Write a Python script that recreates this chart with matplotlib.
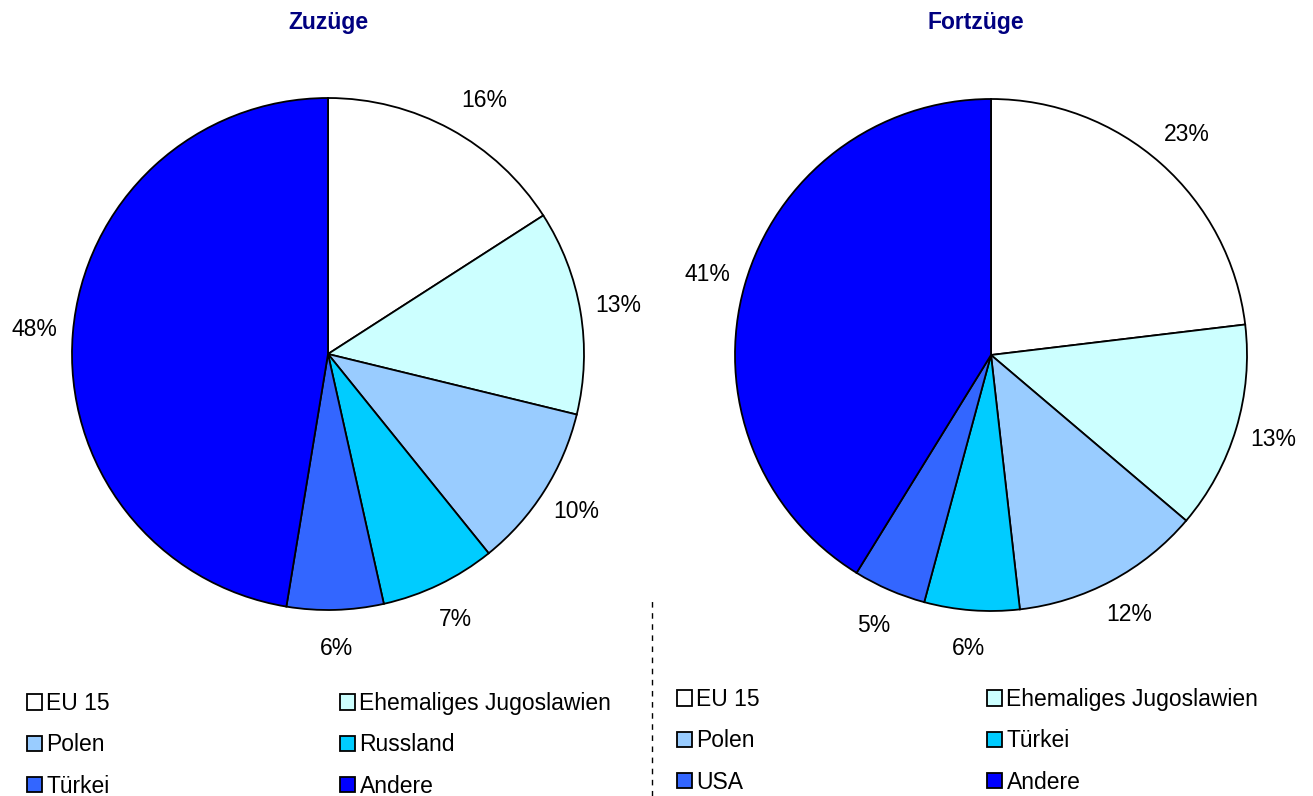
import matplotlib
matplotlib.use('Agg')
import matplotlib.pyplot as plt
from matplotlib.lines import Line2D

plt.rcParams['font.family'] = ['Liberation Sans', 'DejaVu Sans']
plt.rcParams['font.size'] = 16.5

# Daten (Anteile in %, aus dem Bild geschaetzt; Beschriftung wie im Original)
zuzug_labels = ['EU 15', 'Ehemaliges Jugoslawien', 'Polen', 'Russland', 'Türkei', 'Andere']
zuzug_werte = [15.9, 12.9, 10.4, 7.3, 6.1, 47.4]
zuzug_text = ['16%', '13%', '10%', '7%', '6%', '48%']
fortzug_labels = ['EU 15', 'Ehemaliges Jugoslawien', 'Polen', 'Türkei', 'USA', 'Andere']
fortzug_werte = [23.1, 13.1, 12.0, 6.0, 4.6, 41.2]
fortzug_text = ['23%', '13%', '12%', '6%', '5%', '41%']
farben = ['#FFFFFF', '#CCFFFF', '#99CCFF', '#00CCFF', '#3366FF', '#0000FF']

W, H = 1313, 796
fig = plt.figure(figsize=(W / 100, H / 100), dpi=100)


def pie_axes(cx, cy, r):
    return fig.add_axes([(cx - r) / W, (H - cy - r) / H, 2 * r / W, 2 * r / H])


def zeichne(ax, werte, texte, titel_x, titel):
    wedges, texts = ax.pie(werte, labels=texte, colors=farben,
                           startangle=90, counterclock=False, labeldistance=1.15,
                           wedgeprops=dict(edgecolor='black', linewidth=1.3))
    for t in texts:
        t.set_ha('center')
        t.set_va('center')
    ax.set_xlim(-1, 1)
    ax.set_ylim(-1, 1)
    ax.set_aspect('equal')
    ax.axis('off')
    fig.text(titel_x / W, 1 - 22 / H, titel, ha='center', va='center',
             fontweight='bold', color='#000080', fontsize=16.5)
    return wedges, texts


ax1 = pie_axes(328, 354, 256)
w1, t1 = zeichne(ax1, zuzug_werte, zuzug_text, 328, 'Zuzüge')
t1[0].set_position((0.61, 0.99))
ax2 = pie_axes(991, 355, 256)
w2, t2 = zeichne(ax2, fortzug_werte, fortzug_text, 976, 'Fortzüge')


def legende(wedges, labels, idx, x, ytop):
    fig.legend([wedges[i] for i in idx], [labels[i] for i in idx],
               loc='upper left', bbox_to_anchor=(x / W, 1 - ytop / H),
               frameon=False, borderpad=0, borderaxespad=0,
               handlelength=0.65, handleheight=0.65, handletextpad=0.2,
               labelspacing=0.8)


legende(w1, zuzug_labels, [0, 2, 4], 27, 692)
legende(w1, zuzug_labels, [1, 3, 5], 340, 692)
legende(w2, fortzug_labels, [0, 2, 4], 677, 688)
legende(w2, fortzug_labels, [1, 3, 5], 987, 688)

fig.add_artist(Line2D([652 / W, 652 / W], [0, 1 - 600 / H], transform=fig.transFigure,
                      color='black', linestyle=(0, (4, 4)), linewidth=1))

fig.savefig('out.png', dpi=100)
